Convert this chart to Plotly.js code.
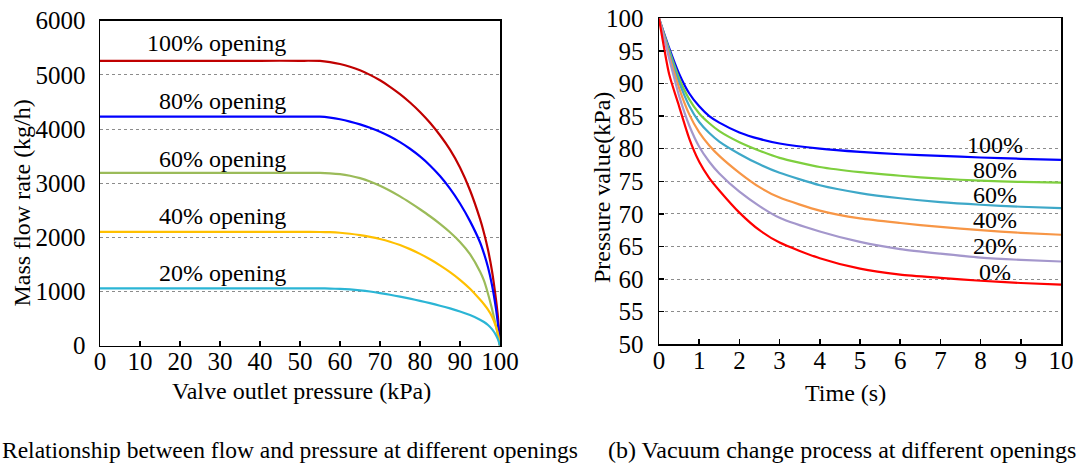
<!DOCTYPE html>
<html>
<head>
<meta charset="utf-8">
<script src="https://cdn.plot.ly/plotly-3.0.1.min.js"></script>
<style>
  html, body { margin: 0; padding: 0; background: #fff; }
  #chart { width: 1078px; height: 464px; }
</style>
</head>
<body>
<div id="chart"></div>
<script>
// (a) mass flow rate (kg/h) vs valve outlet pressure (kPa), one curve per valve opening
const outletPressure = [0, 10, 20, 30, 40, 50, 55, 57.5, 60, 62.5, 65, 67.5, 70, 72.5, 75, 77.5, 80, 82.5, 85, 87.5, 90, 92.5, 95, 96, 97, 98, 99, 99.5, 100];
const flow100 = [5260, 5260, 5260, 5260, 5260, 5260, 5258, 5235, 5200, 5150, 5085, 5000, 4900, 4780, 4645, 4490, 4315, 4115, 3885, 3620, 3290, 2870, 2340, 2080, 1770, 1380, 850, 520, 0];
const flow80  = [4230, 4230, 4230, 4230, 4230, 4230, 4228, 4210, 4180, 4138, 4086, 4024, 3950, 3862, 3758, 3636, 3494, 3328, 3132, 2900, 2625, 2300, 1910, 1700, 1450, 1120, 680, 390, 0];
const flow60  = [3190, 3190, 3190, 3190, 3190, 3190, 3189, 3183, 3168, 3138, 3093, 3031, 2953, 2861, 2756, 2641, 2519, 2390, 2250, 2095, 1915, 1690, 1371, 1200, 960, 680, 360, 190, 0];
const flow40  = [2100, 2100, 2100, 2100, 2100, 2100, 2099, 2095, 2085, 2067, 2042, 2010, 1970, 1920, 1858, 1783, 1695, 1595, 1483, 1358, 1216, 1051, 851, 765, 665, 540, 350, 215, 0];
const flow20  = [1060, 1060, 1060, 1060, 1060, 1060, 1059, 1055, 1048, 1038, 1022, 1000, 972, 940, 905, 868, 828, 785, 738, 688, 632, 565, 480, 438, 382, 305, 195, 115, 0];
const openingNames = ['100% opening', '80% opening', '60% opening', '40% opening', '20% opening'];
const openingFlows = [flow100, flow80, flow60, flow40, flow20];
const openingColors = ['#c00000', '#0000ff', '#9bbb59', '#ffc000', '#2bb5d5'];
const openingLabelY = [43, 101, 159, 216, 273];   // label centres, px from top

// (b) pressure value (kPa) vs time (s) while evacuating
const timeS = [0, 0.25, 0.5, 0.75, 1, 1.25, 1.5, 2, 2.5, 3, 4, 5, 6, 7, 8, 9, 10];
const p100 = [100, 95.5, 91.5, 88.5, 86.5, 85.0, 84.0, 82.5, 81.5, 80.8, 80.0, 79.5, 79.15, 78.9, 78.65, 78.45, 78.3];
const p80  = [100, 95.2, 90.8, 87.6, 85.4, 83.9, 82.7, 81.0, 79.7, 78.6, 77.2, 76.4, 75.85, 75.4, 75.1, 74.9, 74.8];
const p60  = [100, 94.9, 90.2, 86.6, 84.1, 82.4, 81.1, 79.2, 77.6, 76.3, 74.4, 73.2, 72.4, 71.8, 71.4, 71.1, 70.9];
const p40  = [100, 94.4, 89.3, 85.3, 82.5, 80.5, 78.9, 76.3, 74.1, 72.5, 70.5, 69.3, 68.6, 68.0, 67.5, 67.1, 66.8];
const p20  = [100, 93.9, 88.1, 83.6, 80.3, 78.0, 76.2, 73.4, 71.2, 69.4, 67.3, 65.7, 64.6, 63.9, 63.3, 62.95, 62.7];
const p0   = [100, 91.5, 86.5, 81.6, 78.0, 75.5, 73.6, 70.2, 67.5, 65.6, 63.2, 61.6, 60.7, 60.2, 59.75, 59.4, 59.15];
const pctNames = ['100%', '80%', '60%', '40%', '20%', '0%'];
const pctSeries = [p100, p80, p60, p40, p20, p0];
const pctColors = ['#0000ff', '#7ecf3e', '#3ea8c8', '#f79646', '#a497cc', '#ff0000'];
const pctLabelY = [145, 170, 195, 220, 246, 272];  // label centres, px from top

const W = 1078, H = 464;
const px = v => v / W;
const py = v => 1 - v / H;
const FONT = '"Liberation Serif", "Times New Roman", serif';

const traces = [];
openingFlows.forEach((ys, i) => {
  traces.push({
    type: 'scatter', mode: 'lines', xaxis: 'x', yaxis: 'y',
    x: outletPressure, y: ys, name: openingNames[i],
    line: { color: openingColors[i], width: 2.2, shape: 'spline', smoothing: 0.5 },
    hoverinfo: 'skip'
  });
});
pctSeries.forEach((ys, i) => {
  traces.push({
    type: 'scatter', mode: 'lines', xaxis: 'x2', yaxis: 'y2',
    x: timeS, y: ys, name: pctNames[i],
    line: { color: pctColors[i], width: 2.2, shape: 'spline', smoothing: 0.6 },
    hoverinfo: 'skip'
  });
});

const tickFont = { family: FONT, size: 25, color: '#000' };
const axisCommon = {
  showline: true, linecolor: '#000', linewidth: 1.5, mirror: true,
  ticks: 'inside', ticklen: 5, tickwidth: 1.5, tickcolor: '#000',
  tickfont: tickFont, zeroline: false, fixedrange: true
};
const gridStyle = { showgrid: true, gridcolor: '#8c8c8c', gridwidth: 1, griddash: 'dot' };
const textFont = { family: FONT, size: 24, color: '#000' };

const annotations = [];
openingNames.forEach((name, i) => {
  annotations.push({
    xref: 'paper', yref: 'paper', x: px(288), y: py(openingLabelY[i]),
    xanchor: 'right', yanchor: 'middle', showarrow: false,
    text: name, font: textFont
  });
});
pctNames.forEach((name, i) => {
  annotations.push({
    xref: 'paper', yref: 'paper', x: px(995), y: py(pctLabelY[i]),
    xanchor: 'center', yanchor: 'middle', showarrow: false,
    text: name, font: { family: FONT, size: 24, color: '#000' }
  });
});
annotations.push(
  { xref: 'paper', yref: 'paper', x: px(301), y: py(391), xanchor: 'center', yanchor: 'middle',
    showarrow: false, text: 'Valve outlet pressure (kPa)', font: textFont },
  { xref: 'paper', yref: 'paper', x: px(845), y: py(393), xanchor: 'center', yanchor: 'middle',
    showarrow: false, text: 'Time (s)', font: textFont },
  { xref: 'paper', yref: 'paper', x: px(21.5), y: py(203), xanchor: 'center', yanchor: 'middle',
    showarrow: false, textangle: -90, text: 'Mass flow rate (kg/h)', font: textFont },
  { xref: 'paper', yref: 'paper', x: px(602), y: py(188), xanchor: 'center', yanchor: 'middle',
    showarrow: false, textangle: -90, text: 'Pressure value(kPa)', font: textFont },
  { xref: 'paper', yref: 'paper', x: px(0), y: py(450), xanchor: 'left', yanchor: 'middle',
    showarrow: false, text: 'Relationship between flow and pressure at different openings',
    font: { family: FONT, size: 23.5, color: '#000' } },
  { xref: 'paper', yref: 'paper', x: px(606), y: py(450), xanchor: 'left', yanchor: 'middle',
    showarrow: false, text: '(b) Vacuum change process at different openings', font: textFont }
);

const layout = {
  width: W, height: H,
  margin: { l: 0, r: 0, t: 0, b: 0 },
  paper_bgcolor: '#fff', plot_bgcolor: '#fff',
  showlegend: false,
  font: { family: FONT, color: '#000' },
  xaxis: Object.assign({}, axisCommon, {
    domain: [px(100), px(500)], anchor: 'y', range: [0, 100],
    tickmode: 'array', tickvals: [0, 10, 20, 30, 40, 50, 60, 70, 80, 90, 100],
    showgrid: false, ticklabelstandoff: -7
  }),
  yaxis: Object.assign({}, axisCommon, gridStyle, {
    domain: [py(345.7), py(20.7)], anchor: 'x', range: [0, 6000],
    tickmode: 'array', tickvals: [0, 1000, 2000, 3000, 4000, 5000, 6000],
    ticks: '', ticklabelstandoff: 8
  }),
  xaxis2: Object.assign({}, axisCommon, {
    domain: [px(659), px(1061)], anchor: 'y2', range: [0, 10],
    tickmode: 'array', tickvals: [0, 1, 2, 3, 4, 5, 6, 7, 8, 9, 10],
    showgrid: false, ticklabelstandoff: -7
  }),
  yaxis2: Object.assign({}, axisCommon, gridStyle, {
    domain: [py(344.3), py(18.3)], anchor: 'x2', range: [50, 100],
    tickmode: 'array', tickvals: [50, 55, 60, 65, 70, 75, 80, 85, 90, 95, 100],
    ticklabelstandoff: 9
  }),
  annotations: annotations
};

Plotly.newPlot('chart', traces, layout, { staticPlot: true, displayModeBar: false });
</script>
</body>
</html>
